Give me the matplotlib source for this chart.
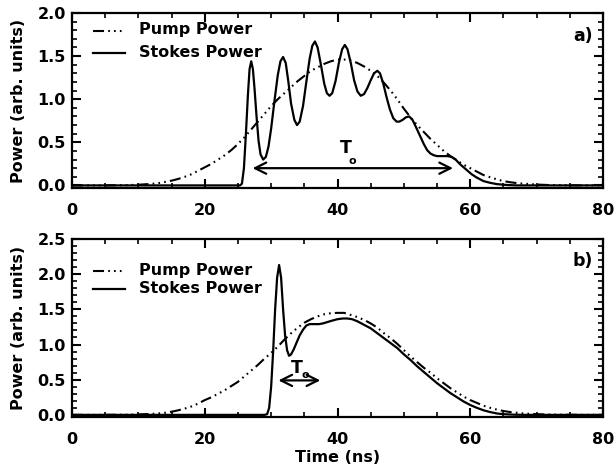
import matplotlib
matplotlib.use('Agg')
import matplotlib.pyplot as plt
from matplotlib.ticker import MultipleLocator, FormatStrFormatter

plt.rcParams['font.family'] = ['DejaVu Sans']
plt.rcParams['font.weight'] = 'bold'
plt.rcParams['axes.labelweight'] = 'bold'
plt.rcParams['font.size'] = 11.5

# ---- data ----
# panel a) pump
t_pump_a = [0, 4, 8, 10, 12, 13, 14, 15, 16, 17, 18, 19, 20, 21, 22, 23, 24, 25,
            26, 27, 28, 29, 30, 31, 32, 33, 34, 35, 36, 37, 38, 39, 40, 41, 42,
            43, 44, 45, 46, 47, 48, 49, 50, 51, 52, 53, 54, 55, 56, 57, 58, 59,
            60, 61, 62, 63, 64, 65, 66, 67, 68, 70, 72, 75, 80]
pump_a = [0, 0, 0.003, 0.008, 0.018, 0.026, 0.04, 0.055, 0.075, 0.10, 0.13, 0.17,
          0.21, 0.25, 0.30, 0.35, 0.41, 0.48, 0.56, 0.65, 0.74, 0.83, 0.92, 1.00,
          1.07, 1.14, 1.21, 1.27, 1.33, 1.37, 1.41, 1.44, 1.46, 1.46, 1.45, 1.42,
          1.38, 1.33, 1.27, 1.19, 1.10, 1.00, 0.89, 0.79, 0.70, 0.62, 0.54, 0.47,
          0.40, 0.34, 0.29, 0.24, 0.20, 0.16, 0.12, 0.095, 0.07, 0.05, 0.037,
          0.027, 0.02, 0.01, 0.004, 0.001, 0]

# panel a) stokes
t_stokes_a = [0, 25.3, 25.6, 25.9, 26.2, 26.5, 26.75, 27.0, 27.25, 27.5, 27.8,
              28.1, 28.4, 28.8, 29.2, 29.6, 30.0, 30.5, 31.0, 31.4, 31.8, 32.2,
              32.6, 33.0, 33.5, 33.9, 34.3, 34.8, 35.3, 35.8, 36.2, 36.6, 37.0,
              37.5, 38.0, 38.4, 38.8, 39.2, 39.7, 40.2, 40.7, 41.1, 41.5, 42.0,
              42.5, 43.0, 43.5, 44.0, 44.5, 45.0, 45.5, 46.0, 46.4, 46.9, 47.4,
              47.9, 48.4, 48.9, 49.3, 49.8, 50.3, 50.8, 51.3, 51.8, 52.4, 53.0,
              53.5, 54.0, 54.5, 55.0, 55.5, 56.0, 56.6, 57.2, 57.8, 58.4, 59.0,
              59.6, 60.2, 61.0, 62.0, 63.0, 64.0, 65.5, 67, 80]
stokes_a = [0, 0, 0.02, 0.2, 0.6, 1.05, 1.35, 1.44, 1.35, 1.12, 0.80,
            0.52, 0.36, 0.30, 0.33, 0.45, 0.66, 0.98, 1.28, 1.44, 1.49, 1.42,
            1.20, 0.95, 0.76, 0.70, 0.74, 0.92, 1.20, 1.47, 1.62, 1.67, 1.60,
            1.40, 1.18, 1.07, 1.04, 1.07, 1.21, 1.42, 1.58, 1.63, 1.58, 1.42,
            1.22, 1.09, 1.04, 1.06, 1.13, 1.22, 1.30, 1.33, 1.30, 1.18, 1.02,
            0.88, 0.78, 0.74, 0.74, 0.76, 0.79, 0.80, 0.76, 0.68, 0.58, 0.48,
            0.41, 0.37, 0.35, 0.34, 0.34, 0.34, 0.34, 0.33, 0.30, 0.25, 0.21,
            0.17, 0.13, 0.09, 0.05, 0.03, 0.015, 0.005, 0, 0]

# panel b) pump
t_pump_b = t_pump_a
pump_b = [0, 0, 0.002, 0.006, 0.014, 0.02, 0.03, 0.045, 0.065, 0.09, 0.12, 0.16,
          0.21, 0.25, 0.30, 0.35, 0.41, 0.47, 0.55, 0.63, 0.71, 0.80, 0.88, 0.97,
          1.07, 1.16, 1.24, 1.31, 1.36, 1.40, 1.43, 1.445, 1.45, 1.45, 1.42, 1.39,
          1.35, 1.30, 1.24, 1.16, 1.09, 1.01, 0.92, 0.83, 0.75, 0.67, 0.60, 0.52,
          0.45, 0.38, 0.32, 0.26, 0.21, 0.17, 0.13, 0.10, 0.075, 0.055, 0.04,
          0.03, 0.02, 0.01, 0.004, 0.001, 0]

# panel b) stokes
t_stokes_b = [0, 29.0, 29.4, 29.7, 30.0, 30.3, 30.6, 30.9, 31.2, 31.5, 31.8,
              32.1, 32.4, 32.7, 33.0, 33.4, 33.8, 34.3, 34.8, 35.3, 35.8, 36.5,
              37.2, 37.8, 38.5, 39.2, 40.0, 40.8, 41.5, 42.2, 43.0, 44.0, 45.0,
              46.0, 47.0, 48.0, 49.0, 50.0, 51.0, 52.0, 53.0, 54.0, 55.0, 56.0,
              57.0, 58.0, 59.0, 60.0, 61.0, 62.0, 63.0, 64.0, 65.0, 66.5, 68, 80]
stokes_b = [0, 0, 0.01, 0.1, 0.4, 0.9, 1.5, 1.95, 2.13, 1.95, 1.50,
            1.13, 0.92, 0.84, 0.86, 0.93, 1.02, 1.13, 1.21, 1.27, 1.29, 1.29,
            1.29, 1.30, 1.32, 1.34, 1.36, 1.37, 1.37, 1.36, 1.33, 1.28, 1.23,
            1.16, 1.09, 1.02, 0.95, 0.86, 0.78, 0.69, 0.61, 0.53, 0.45, 0.38,
            0.31, 0.25, 0.19, 0.14, 0.10, 0.065, 0.04, 0.02, 0.01, 0.003, 0, 0]

# T_o arrow extents (ns) and height
arrow_a = (27.2, 57.4, 0.20)
arrow_b = (31.1, 37.4, 0.49)

pump_dash = (5.3, 2, 0.8, 2, 0.8, 2, 0.8, 2)


def style_axes(ax, ymax):
    ax.set_xlim(0, 80)
    ax.set_ylim(-0.03, ymax)
    ax.xaxis.set_major_locator(MultipleLocator(20))
    ax.xaxis.set_minor_locator(MultipleLocator(5))
    ax.yaxis.set_major_locator(MultipleLocator(0.5))
    ax.yaxis.set_minor_locator(MultipleLocator(0.1))
    ax.yaxis.set_major_formatter(FormatStrFormatter('%.1f'))
    ax.tick_params(which='both', direction='in', top=True, right=True)
    ax.tick_params(which='major', length=6.5, width=1.5)
    ax.tick_params(which='minor', length=3.5, width=1.2)
    ax.tick_params(axis='x', which='major', pad=11)
    ax.tick_params(axis='y', which='major', pad=4.5)
    for sp in ax.spines.values():
        sp.set_linewidth(1.6)
    ax.set_ylabel('Power (arb. units)')
    ax.yaxis.set_label_coords(-0.087, 0.5)


def legend(ax, y_pump, y_stokes):
    ax.plot([0.04, 0.10], [y_pump + 0.02, y_pump + 0.02], transform=ax.transAxes,
            color='k', lw=1.5, dashes=pump_dash)
    ax.plot([0.04, 0.10], [y_stokes + 0.02, y_stokes + 0.02], transform=ax.transAxes,
            color='k', lw=1.6)
    ax.text(0.126, y_pump, 'Pump Power', transform=ax.transAxes, va='baseline')
    ax.text(0.126, y_stokes, 'Stokes Power', transform=ax.transAxes, va='baseline')


def t_arrow(ax, arr, tx, ty, ox, oy):
    ax.annotate('', xy=(arr[0], arr[2]), xytext=(arr[1], arr[2]),
                arrowprops=dict(arrowstyle='<->,head_length=0.7,head_width=0.35',
                                lw=1.6, color='k', shrinkA=0, shrinkB=0))
    ax.text(tx, ty, 'T', ha='center', va='center', fontsize=12.5)
    ax.text(ox, oy, 'o', ha='center', va='center', fontsize=8)


fig = plt.figure(figsize=(6.14, 4.70), dpi=100)
ax1 = fig.add_axes([0.1173, 0.6, 0.8648, 0.3723])
ax2 = fig.add_axes([0.1173, 0.1128, 0.8648, 0.3787])

# panel a
ax1.plot(t_pump_a, pump_a, color='k', lw=1.5, dashes=pump_dash)
ax1.plot(t_stokes_a, stokes_a, color='k', lw=1.6)
style_axes(ax1, 2.0)
legend(ax1, 0.88, 0.75)
t_arrow(ax1, arrow_a, 41.3, 0.43, 42.3, 0.28)
ax1.text(0.981, 0.87, 'a)', transform=ax1.transAxes, ha='right', va='center',
         fontsize=12.5)

# panel b
ax2.plot(t_pump_b, pump_b, color='k', lw=1.5, dashes=pump_dash)
ax2.plot(t_stokes_b, stokes_b, color='k', lw=1.6)
style_axes(ax2, 2.5)
legend(ax2, 0.798, 0.697)
t_arrow(ax2, arrow_b, 33.8, 0.66, 35.1, 0.56)
ax2.text(0.981, 0.876, 'b)', transform=ax2.transAxes, ha='right', va='center',
         fontsize=12.5)
ax2.set_xlabel('Time (ns)')
ax2.xaxis.set_label_coords(0.5, -0.185)

fig.savefig('out.png', dpi=100)
